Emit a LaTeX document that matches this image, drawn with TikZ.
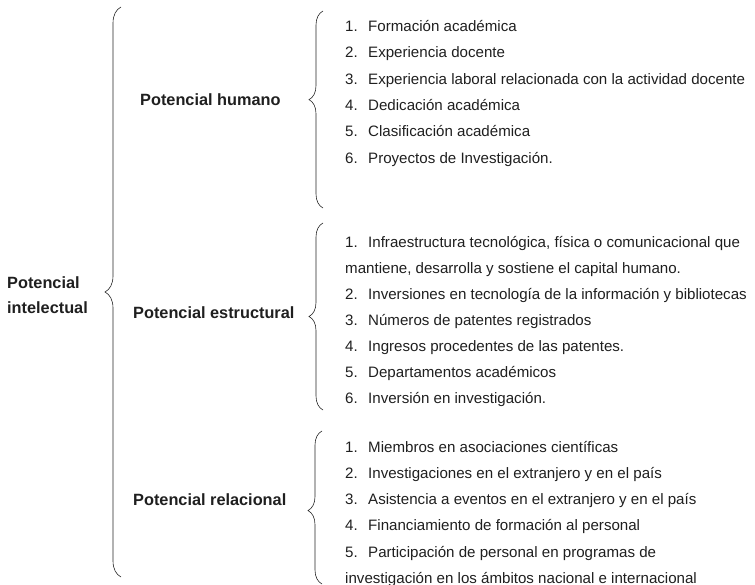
\documentclass[tikz,border=0pt]{standalone}
\usepackage{fontspec}
\setmainfont{Liberation Sans}
\usetikzlibrary{decorations.pathreplacing}

\begin{document}
\begin{tikzpicture}[x=1pt, y=-1pt,
  item/.style={anchor=base west, inner sep=0pt, text=black!88, font=\fontsize{15.1}{16}\selectfont},
  head/.style={anchor=west, inner sep=0pt, text=black!88, font=\fontsize{16.3}{25}\selectfont\bfseries},
  curly/.style={decorate, decoration={brace, amplitude=#1}, line width=0.6pt, black!85}]
\useasboundingbox (0,0) rectangle (755,585);
% main brace
\coordinate (mb) at (121,577);
\coordinate (mt) at (121,7);
\draw[curly=16pt] (mb) -- (mt);
\node[head, align=left] (pint) at (7,295.5) {Potencial\\intelectual};
% potencial humano
\node[head] (phum) at (140,100) {Potencial humano};
\coordinate (hb) at (323,208);
\coordinate (ht) at (323,11);
\draw[curly=14pt, decoration={aspect=0.55}] (hb) -- (ht);
\foreach \t [count=\i] in {Formación académica, Experiencia docente,
  Experiencia laboral relacionada con la actividad docente, Dedicación académica,
  Clasificación académica, Proyectos de Investigación.}
  \node[item] (h\i) at (345,{5+26.4*\i}) {\makebox[23pt][l]{\i.}\t};
% potencial estructural
\node[head] (pest) at (133,313) {Potencial estructural};
\coordinate (eb) at (323,410);
\coordinate (et) at (323,223);
\draw[curly=14pt] (eb) -- (et);
\node[item] (e1) at (345,247.4) {\makebox[23pt][l]{1.}Infraestructura tecnológica, física o comunicacional que};
\node[item] (e1b) at (345,273.4) {mantiene, desarrolla y sostiene el capital humano.};
\node[item] (e2) at (345,299.4) {\makebox[23pt][l]{2.}Inversiones en tecnología de la información y bibliotecas};
\node[item] (e3) at (345,325.4) {\makebox[23pt][l]{3.}Números de patentes registrados};
\node[item] (e4) at (345,351.4) {\makebox[23pt][l]{4.}Ingresos procedentes de las patentes.};
\node[item] (e5) at (345,377.4) {\makebox[23pt][l]{5.}Departamentos académicos};
\node[item] (e6) at (345,403.4) {\makebox[23pt][l]{6.}Inversión en investigación.};
% potencial relacional
\node[head] (prel) at (133,500) {Potencial relacional};
\coordinate (rb) at (322,584);
\coordinate (rt) at (322,431);
\draw[curly=14pt, decoration={aspect=0.48}] (rb) -- (rt);
\node[item] (r1) at (345,452) {\makebox[23pt][l]{1.}Miembros en asociaciones científicas};
\node[item] (r2) at (345,478.3) {\makebox[23pt][l]{2.}Investigaciones en el extranjero y en el país};
\node[item] (r3) at (345,504.6) {\makebox[23pt][l]{3.}Asistencia a eventos en el extranjero y en el país};
\node[item] (r4) at (345,530.9) {\makebox[23pt][l]{4.}Financiamiento de formación al personal};
\node[item] (r5) at (345,557.2) {\makebox[23pt][l]{5.}Participación de personal en programas de};
\node[item] (r5b) at (345,583.3) {investigación en los ámbitos nacional e internacional};
\end{tikzpicture}
\end{document}
